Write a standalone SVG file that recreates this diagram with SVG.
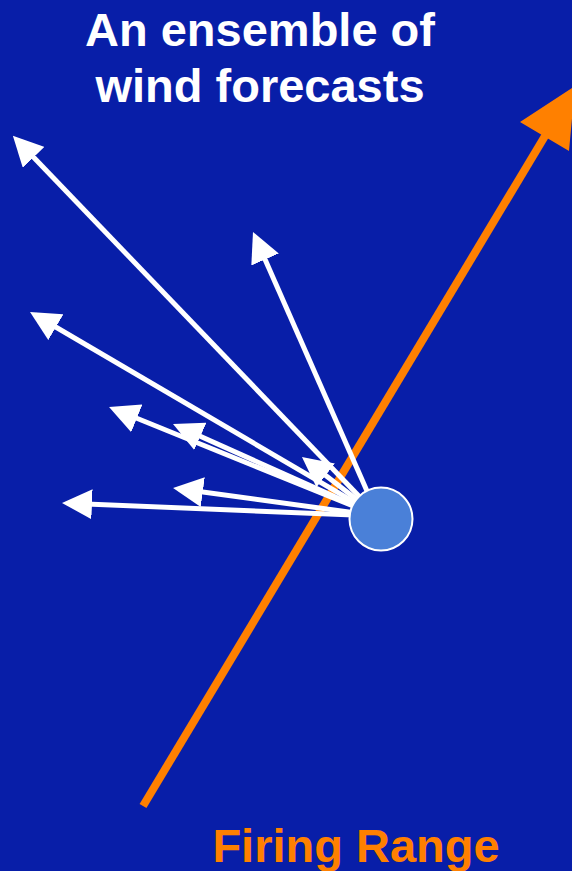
<svg xmlns="http://www.w3.org/2000/svg" width="572" height="871" viewBox="0 0 572 871">
<style>
.t{font-family:"Liberation Sans",Arial,sans-serif;font-weight:bold;font-size:47px;text-anchor:middle}
.w{stroke:#ffffff;stroke-width:5;fill:none;marker-end:url(#ah)}
</style>
<defs>
<marker id="ah" markerUnits="userSpaceOnUse" viewBox="0 0 30 30" markerWidth="30" markerHeight="30" refX="24" refY="15" orient="auto">
<path d="M0,0 L30,15 L0,30 z" fill="#ffffff"/>
</marker>
</defs>
<rect x="0" y="0" width="572" height="871" fill="#081ea8"/>
<g id="title">
<text class="t" x="260" y="46" fill="#ffffff">An ensemble of</text>
<text class="t" x="260" y="102" fill="#ffffff">wind forecasts</text>
</g>
<g id="firing-range">
<line x1="143" y1="806" x2="548" y2="131" stroke="#ff8000" stroke-width="8"/>
<polygon points="575,86 520,122 569,151" fill="#ff8000"/>
<text class="t" x="356" y="862" fill="#ff8000">Firing Range</text>
</g>
<g id="connectors">
<line class="w" x1="378" y1="516" x2="17" y2="140"/>
<line class="w" x1="378" y1="516" x2="255.4" y2="237.5"/>
<line class="w" x1="378" y1="516" x2="35.2" y2="315"/>
<line class="w" x1="378" y1="516" x2="114.6" y2="409.3"/>
<line class="w" x1="378" y1="516" x2="178.5" y2="426.5"/>
<line class="w" x1="378" y1="516" x2="306.7" y2="460.7"/>
<line class="w" x1="378" y1="516" x2="179" y2="488.8"/>
<line class="w" x1="378" y1="516" x2="68" y2="503.2"/>
</g>
<g id="origin">
<circle cx="381" cy="519" r="31.5" fill="#4a80d8" stroke="#ffffff" stroke-width="2"/>
</g>
</svg>
